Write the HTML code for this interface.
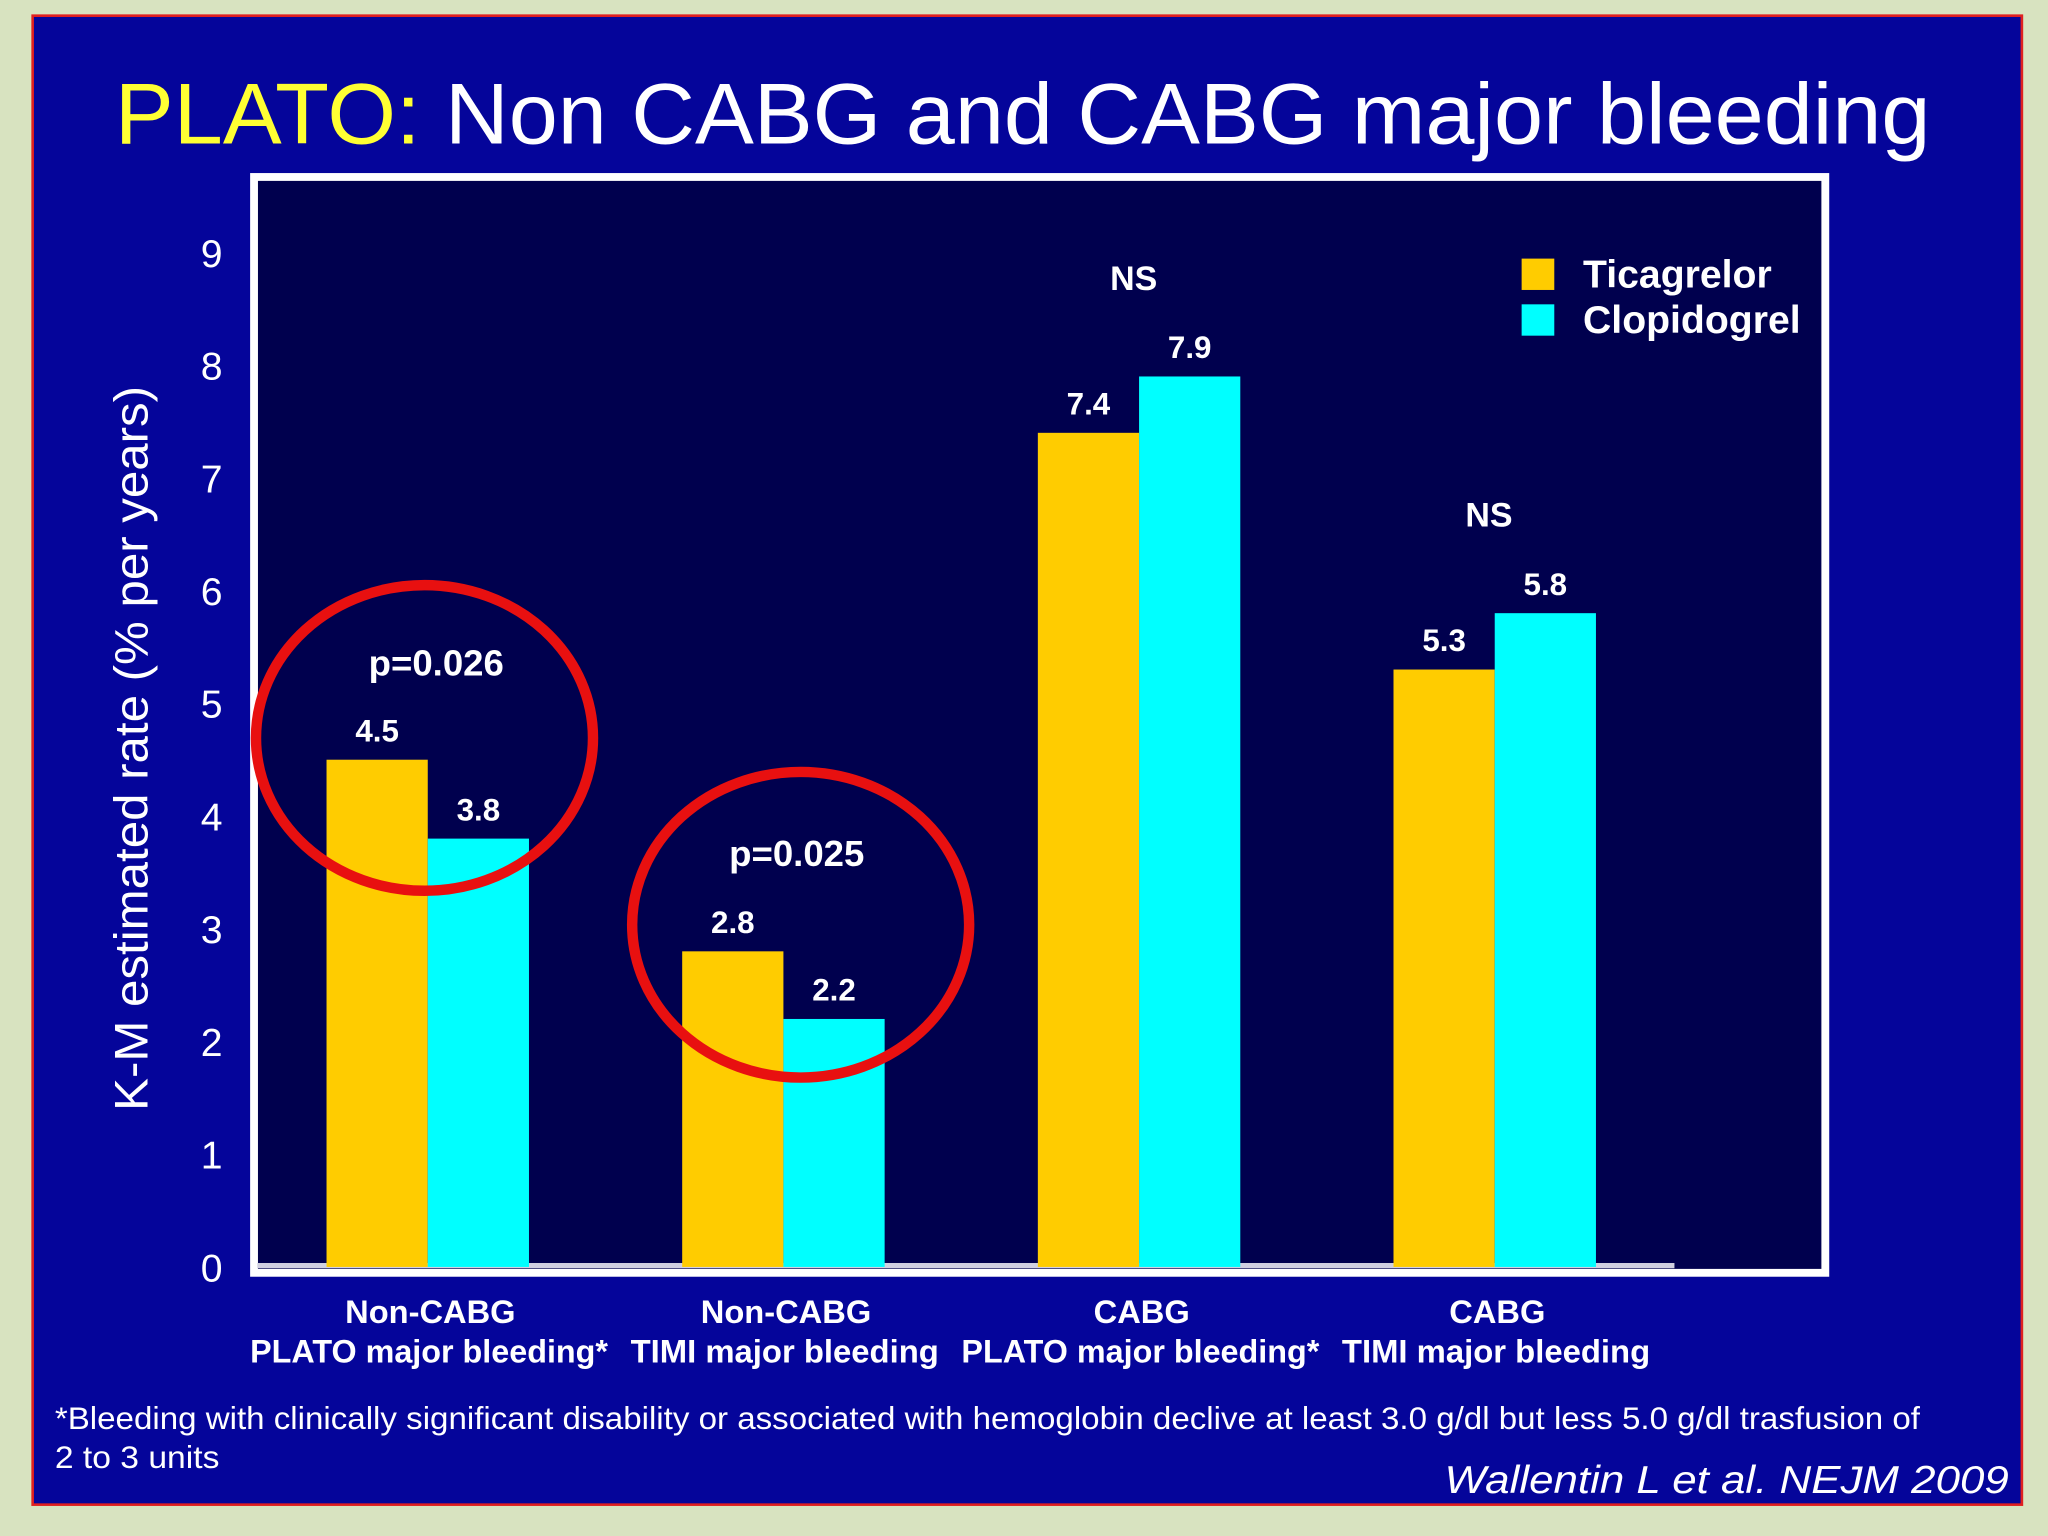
<!DOCTYPE html>
<html><head><meta charset="utf-8"><style>
html,body{margin:0;padding:0;background:#d8e3c0;}
svg{display:block;font-family:"Liberation Sans",Arial,sans-serif;}
</style></head><body>
<svg id="chart" width="2048" height="1536" viewBox="0 0 1568 1176" xmlns="http://www.w3.org/2000/svg">
<rect x="0" y="0" width="1568" height="1176" fill="#d8e3c0"/>
<rect x="25" y="12" width="1523" height="1140" fill="#05059a" stroke="#e02020" stroke-width="2"/>
<text x="783" y="110" font-size="66" text-anchor="middle" fill="#fff" textLength="1390" lengthAdjust="spacingAndGlyphs"><tspan fill="#ffff33">PLATO:</tspan> Non CABG and CABG major bleeding</text>
<rect x="194.5" y="135.5" width="1203" height="839" fill="#00004e" stroke="#fff" stroke-width="6"/>
<g id="yaxis"></g>
<line x1="197" y1="969" x2="1282" y2="969" stroke="#d0d0e0" stroke-width="4"/>
<g id="bars"></g>
<g id="xlabels"></g>
<text transform="translate(113,573) rotate(-90)" font-size="36" fill="#fff" text-anchor="middle" textLength="555" lengthAdjust="spacingAndGlyphs">K-M estimated rate (% per years)</text>
<g>
<rect x="1165" y="198" width="25" height="24" fill="#ffcc00"/>
<text x="1212" y="220" font-size="30" font-weight="bold" fill="#fff">Ticagrelor</text>
<rect x="1165" y="233" width="25" height="24" fill="#00ffff"/>
<text x="1212" y="255" font-size="30" font-weight="bold" fill="#fff">Clopidogrel</text>
</g>
<text x="868" y="222" font-size="26" font-weight="bold" fill="#fff" text-anchor="middle">NS</text>
<text x="1140" y="403" font-size="26" font-weight="bold" fill="#fff" text-anchor="middle">NS</text>
<text x="334" y="517" font-size="28" font-weight="bold" fill="#fff" text-anchor="middle">p=0.026</text>
<text x="610" y="663" font-size="28" font-weight="bold" fill="#fff" text-anchor="middle">p=0.025</text>
<ellipse cx="325" cy="565" rx="129" ry="117" fill="none" stroke="#e81010" stroke-width="8"/>
<ellipse cx="613" cy="708" rx="129" ry="117" fill="none" stroke="#e81010" stroke-width="8"/>
<text x="42" y="1094" font-size="24" fill="#fff" textLength="1428" lengthAdjust="spacingAndGlyphs">*Bleeding with clinically significant disability or associated with hemoglobin declive at least 3.0 g/dl but less 5.0 g/dl trasfusion of</text>
<text x="42" y="1124" font-size="24" fill="#fff" textLength="126" lengthAdjust="spacingAndGlyphs">2 to 3 units</text>
<text x="1538" y="1143" font-size="30" font-style="italic" fill="#fff" text-anchor="end" textLength="432" lengthAdjust="spacingAndGlyphs">Wallentin L et al. NEJM 2009</text>
</svg>
<script>
const categoriesLine1 = ["Non-CABG","Non-CABG","CABG","CABG"];
const categoriesLine2 = ["PLATO major bleeding*","TIMI major bleeding","PLATO major bleeding*","TIMI major bleeding"];
const ticagrelor = [4.5, 2.8, 7.4, 5.3];
const clopidogrel = [3.8, 2.2, 7.9, 5.8];
const yTicks = [0,1,2,3,4,5,6,7,8,9];
const NS = "http://www.w3.org/2000/svg";
const y0 = 970, unit = 86.3;
function yScale(v){ return y0 - v*unit; }
const groupStart = 250, groupStep = 272.3, barW = 77.5;
function xGroup(i){ return groupStart + i*groupStep; }
function mk(tag, attrs, parent){ const e=document.createElementNS(NS,tag); for(const k in attrs) e.setAttribute(k,attrs[k]); parent.appendChild(e); return e; }
const yaxis=document.getElementById('yaxis');
yTicks.forEach(t=>{
  const el=mk('text',{x:162,y:yScale(t)+11,'font-size':30,fill:'#fff','text-anchor':'middle'},yaxis);
  
  
  el.textContent=t;
});
const bars=document.getElementById('bars');
const series=[[ticagrelor,'#ffcc00','ticagrelor'],[clopidogrel,'#00ffff','clopidogrel']];
series.forEach((s,si)=>{
  s[0].forEach((v,i)=>{
    const x=xGroup(i)+si*barW;
    const r=mk('rect',{x:x,y:yScale(v),width:barW,height:yScale(0)-yScale(v),fill:s[1]},bars);
    
    
    const t=mk('text',{x:x+barW/2,y:yScale(v)-14,'font-size':24,'font-weight':'bold',fill:'#fff','text-anchor':'middle'},bars);
    
    
    t.textContent=v.toFixed(1);
  });
});
const xl=document.getElementById('xlabels');
categoriesLine1.forEach((c,i)=>{
  const cx=xGroup(i)+barW;
  const a=mk('text',{x:cx+2,y:1013,'font-size':25,'font-weight':'bold',fill:'#fff','text-anchor':'middle'},xl);
  
  
  a.textContent=c;
  const b=mk('text',{x:cx+1,y:1043,'font-size':25,'font-weight':'bold',fill:'#fff','text-anchor':'middle',textLength:categoriesLine2[i].length>20?274:236,lengthAdjust:'spacingAndGlyphs'},xl);
  
  
  b.textContent=categoriesLine2[i];
});
</script>
</body></html>
